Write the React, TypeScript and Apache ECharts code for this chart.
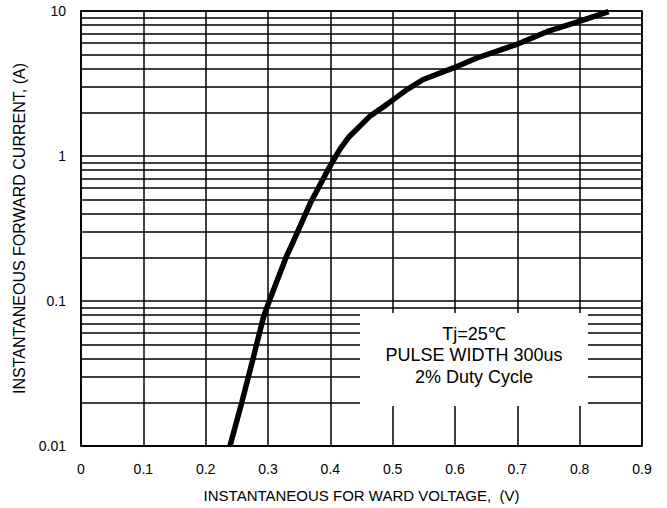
import React, { useEffect, useRef } from "react";
import * as echarts from "echarts";

const voltage = [0.239, 0.258, 0.2766, 0.2926, 0.302, 0.330, 0.3355, 0.3676, 0.397, 0.4157, 0.429, 0.4318, 0.464, 0.4907, 0.5228, 0.549, 0.5976, 0.635, 0.6977, 0.7475, 0.798, 0.8464];
const current = [0.01, 0.02, 0.041, 0.077, 0.1, 0.205, 0.23, 0.47, 0.815, 1.12, 1.34, 1.38, 1.89, 2.27, 2.87, 3.37, 4.05, 4.74, 5.85, 7.2, 8.45, 9.9];

const xTickLabels = ["0", "0.1", "0.2", "0.3", "0.4", "0.5", "0.6", "0.7", "0.8", "0.9"];
const yTickValues = [0.01, 0.1, 1, 10];
const yTickLabels = ["0.01", "0.1", "1", "10"];
const minorGridValues = [
  0.02, 0.03, 0.04, 0.05, 0.06, 0.07, 0.08, 0.09,
  0.2, 0.3, 0.4, 0.5, 0.6, 0.7, 0.8, 0.9,
  2, 3, 4, 5, 6, 7, 8, 9,
];
const noteLines = ["Tj=25\u2103", "PULSE WIDTH 300us", "2% Duty Cycle"];

const FONT = "'Liberation Sans', Arial, sans-serif";

export default function App() {
  const ref = useRef<HTMLDivElement>(null);
  useEffect(() => {
    if (!ref.current) return;
    const chart = echarts.init(ref.current, null, { renderer: "svg" });
    chart.setOption({
      animation: false,
      backgroundColor: "#ffffff",
      textStyle: { fontFamily: FONT },
      grid: {
        left: 81, top: 11, width: 561, height: 438,
        show: true, borderColor: "#000", borderWidth: 1.5, backgroundColor: "transparent",
      },
      xAxis: {
        type: "value", min: 0, max: 0.9, interval: 0.1,
        name: "INSTANTANEOUS FOR WARD VOLTAGE,  (V)",
        nameLocation: "middle", nameGap: 42,
        nameTextStyle: { color: "#000", fontSize: 15, fontFamily: FONT },
        axisLine: { show: true, lineStyle: { color: "#000", width: 1.5 } },
        axisTick: { show: false },
        axisLabel: {
          color: "#000", fontSize: 14, fontFamily: FONT, margin: 16,
          formatter: (v: number) => xTickLabels[Math.round(v * 10)] ?? "",
        },
        splitLine: { show: true, lineStyle: { color: "#000", width: 1.5 } },
      },
      yAxis: {
        type: "log", logBase: 10, min: 0.01, max: 10,
        name: "INSTANTANEOUS FORWARD CURRENT, (A)",
        nameLocation: "middle", nameGap: 52,
        nameTextStyle: { color: "#000", fontSize: 16, fontFamily: FONT },
        axisLine: { show: true, lineStyle: { color: "#000", width: 1.5 } },
        axisTick: { show: false },
        axisLabel: {
          color: "#000", fontSize: 14, fontFamily: FONT, margin: 15,
          formatter: (v: number) => {
            let best = 0;
            yTickValues.forEach((t, i) => {
              if (Math.abs(Math.log10(t) - Math.log10(v)) < Math.abs(Math.log10(yTickValues[best]) - Math.log10(v))) best = i;
            });
            return yTickLabels[best];
          },
        },
        splitLine: { show: true, lineStyle: { color: "#000", width: 1.5 } },
      },
      series: [
        {
          type: "line",
          data: [],
          z: 1,
          silent: true,
          markLine: {
            silent: true,
            symbol: ["none", "none"],
            label: { show: false },
            lineStyle: { color: "#000", width: 1.5, type: "solid" },
            data: minorGridValues.map((v) => ({ yAxis: v })),
          },
        },
        {
          type: "line",
          z: 5,
          showSymbol: false,
          symbol: "none",
          smooth: false,
          lineStyle: { color: "#000", width: 5.5 },
          data: voltage.map((v, i) => [v, current[i]]),
        },
      ],
      graphic: [
        {
          type: "rect", z: 100,
          shape: { x: 360, y: 313, width: 228, height: 93 },
          style: { fill: "#fff" },
        },
        {
          type: "text", z: 101,
          x: 474, y: 355,
          style: {
            text: noteLines.join("\n"),
            fill: "#000",
            font: `18px ${FONT}`,
            lineHeight: 21.5,
            textAlign: "center",
            textVerticalAlign: "middle",
          },
        },
      ],
    });
    return () => chart.dispose();
  }, []);
  return <div ref={ref} style={{ position: "fixed", left: 0, top: 0, width: 667, height: 508 }} />;
}
